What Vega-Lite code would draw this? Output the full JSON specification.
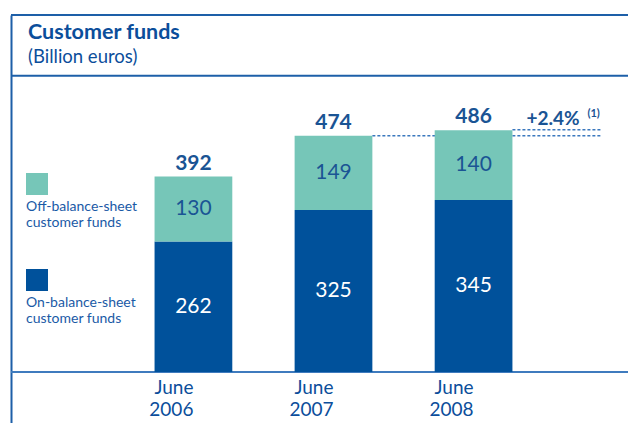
{
  "$schema": "https://vega.github.io/schema/vega-lite/v6.json",
  "width": 629,
  "height": 423,
  "autosize": {"type": "fit", "contains": "padding"},
  "padding": {"left": 10, "top": 14, "right": 0, "bottom": 0},
  "config": {"view": {"stroke": null}, "font": "Lato"},
  "title": {
    "text": "Customer funds",
    "subtitle": "(Billion euros)",
    "anchor": "start",
    "frame": "group",
    "orient": "top",
    "offset": -52,
    "dx": 17,
    "font": "Lato",
    "fontSize": 21.5,
    "fontWeight": "bold",
    "color": "#0B4E9B",
    "subtitleFont": "Lato",
    "subtitleFontSize": 18.5,
    "subtitleColor": "#0B4E9B",
    "subtitlePadding": 4
  },
  "datasets": {
    "funds": [
      {"year": "June 2006", "type": "On-balance-sheet customer funds", "value": 262},
      {"year": "June 2006", "type": "Off-balance-sheet customer funds", "value": 130},
      {"year": "June 2007", "type": "On-balance-sheet customer funds", "value": 325},
      {"year": "June 2007", "type": "Off-balance-sheet customer funds", "value": 149},
      {"year": "June 2008", "type": "On-balance-sheet customer funds", "value": 345},
      {"year": "June 2008", "type": "Off-balance-sheet customer funds", "value": 140}
    ],
    "totals": [
      {"year": "June 2006", "total": 392},
      {"year": "June 2007", "total": 474},
      {"year": "June 2008", "total": 486}
    ],
    "growth": [
      {"from": "June 2007", "to": "June 2008", "level": 474},
      {"from": "June 2008", "to": "June 2008", "level": 486}
    ],
    "note": [
      {"year": "June 2008", "level": 486, "label": "+2.4%", "ref": "(1)"}
    ],
    "frame": [{"name": "frame"}]
  },
  "layer": [
    {
      "data": {"name": "frame"},
      "mark": {"type": "rule", "color": "#1D5FA8", "strokeWidth": 2},
      "encoding": {"y": {"datum": 716, "type": "quantitative", "title": null}}
    },
    {
      "data": {"name": "frame"},
      "mark": {"type": "rule", "color": "#1D5FA8", "strokeWidth": 2},
      "encoding": {"y": {"datum": 594, "type": "quantitative", "title": null}}
    },
    {
      "data": {"name": "frame"},
      "mark": {"type": "rule", "color": "#3F7BBE", "strokeWidth": 2},
      "encoding": {"y": {"datum": 0, "type": "quantitative", "title": null}}
    },
    {
      "data": {"name": "growth"},
      "mark": {"type": "rule", "color": "#3A78BE", "strokeWidth": 1.5, "strokeDash": [3, 2]},
      "encoding": {
        "x": {"field": "from", "type": "nominal", "bandPosition": 1, "title": null},
        "x2": {"field": "to", "bandPosition": 2.14},
        "y": {"field": "level", "type": "quantitative", "title": null}
      }
    },
    {
      "data": {"name": "funds"},
      "transform": [
        {"stack": "value", "groupby": ["year"], "sort": [{"field": "type", "order": "descending"}], "as": ["v0", "v1"]}
      ],
      "mark": {"type": "bar"},
      "encoding": {
        "x": {
          "field": "year",
          "type": "nominal",
          "title": null,
          "scale": {"domain": ["June 2006", "June 2007", "June 2008"], "paddingInner": 0.445, "paddingOuter": 0.925, "align": 0.554},
          "axis": {
            "orient": "bottom",
            "offset": -51,
            "domain": false,
            "ticks": false,
            "labelAngle": 0,
            "labelExpr": "split(datum.label, ' ')",
            "labelFont": "Lato",
            "labelFontSize": 19,
            "labelLineHeight": 22,
            "labelColor": "#0B4E9B",
            "labelPadding": 6,
            "labelBaseline": "top"
          }
        },
        "y": {
          "field": "v0",
          "type": "quantitative",
          "title": null,
          "scale": {"domain": [-102, 716], "nice": false, "zero": false},
          "axis": {
            "orient": "left",
            "labels": false,
            "ticks": false,
            "grid": false,
            "domain": true,
            "domainColor": "#1D5FA8",
            "domainWidth": 2,
            "minExtent": 0,
            "maxExtent": 0
          }
        },
        "y2": {"field": "v1"},
        "color": {
          "field": "type",
          "type": "nominal",
          "scale": {
            "domain": ["Off-balance-sheet customer funds", "On-balance-sheet customer funds"],
            "range": ["#76C6B8", "#00519B"]
          },
          "legend": {
            "title": null,
            "orient": "none",
            "legendX": 15,
            "legendY": 158,
            "padding": 0,
            "symbolType": "square",
            "symbolSize": 484,
            "symbolStrokeWidth": 0,
            "labelFont": "Lato",
            "labelFontSize": 14,
            "labelColor": "#1A5AA6",
            "labelLineHeight": 16.5,
            "labelBaseline": "top",
            "labelOffset": -22,
            "labelExpr": "datum.label == 'Off-balance-sheet customer funds' ? ['', '', 'Off-balance-sheet', 'customer funds'] : ['', '', 'On-balance-sheet', 'customer funds']",
            "rowPadding": 23
          }
        }
      }
    },
    {
      "data": {"name": "funds"},
      "transform": [
        {"stack": "value", "groupby": ["year"], "sort": [{"field": "type", "order": "descending"}], "as": ["v0", "v1"]},
        {"calculate": "(datum.v0 + datum.v1) / 2", "as": "mid"}
      ],
      "mark": {"type": "text", "font": "Lato", "fontSize": 21, "baseline": "middle"},
      "encoding": {
        "x": {"field": "year", "type": "nominal", "title": null},
        "y": {"field": "mid", "type": "quantitative", "title": null},
        "text": {"field": "value"},
        "color": {
          "condition": {"test": "datum.type === 'On-balance-sheet customer funds'", "value": "#FFFFFF"},
          "value": "#1A5494"
        }
      }
    },
    {
      "data": {"name": "totals"},
      "mark": {"type": "text", "font": "Lato", "fontSize": 21, "fontWeight": "bold", "baseline": "alphabetic", "dy": -7, "color": "#1A5494"},
      "encoding": {
        "x": {"field": "year", "type": "nominal", "title": null},
        "y": {"field": "total", "type": "quantitative", "title": null},
        "text": {"field": "total"}
      }
    },
    {
      "data": {"name": "note"},
      "mark": {"type": "text", "font": "Lato", "fontSize": 19, "fontWeight": "bold", "baseline": "alphabetic", "align": "left", "dx": 14, "dy": -5, "color": "#1A5494"},
      "encoding": {
        "x": {"field": "year", "type": "nominal", "bandPosition": 1, "title": null},
        "y": {"field": "level", "type": "quantitative", "title": null},
        "text": {"field": "label"}
      }
    },
    {
      "data": {"name": "note"},
      "mark": {"type": "text", "font": "Lato", "fontSize": 11, "fontWeight": "bold", "baseline": "alphabetic", "align": "left", "dx": 75, "dy": -13, "color": "#1A5494"},
      "encoding": {
        "x": {"field": "year", "type": "nominal", "bandPosition": 1, "title": null},
        "y": {"field": "level", "type": "quantitative", "title": null},
        "text": {"field": "ref"}
      }
    }
  ]
}
